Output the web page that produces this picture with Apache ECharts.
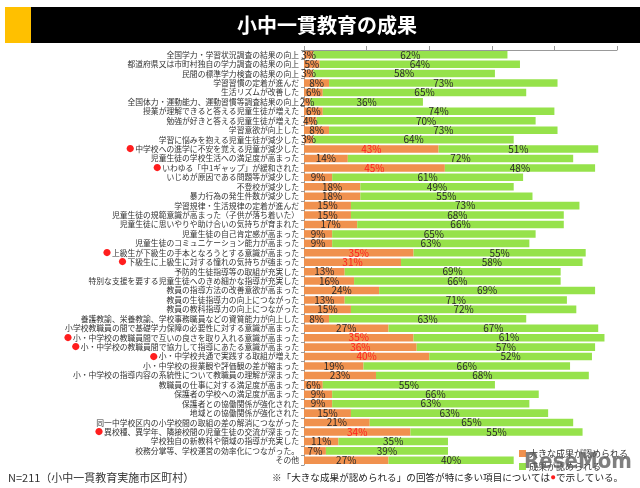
<!DOCTYPE html>
<html>
<head>
<meta charset="utf-8">
<script src="https://cdn.jsdelivr.net/npm/echarts@6/dist/echarts.min.js"></script>
<style>
html,body{margin:0;padding:0;background:#fff;}
#chart{width:640px;height:488px;}
</style>
</head>
<body>
<div id="chart"></div>
<script>
const categories = [
  '全国学力・学習状況調査の結果の向上',
  '都道府県又は市町村独自の学力調査の結果の向上',
  '民間の標準学力検査の結果の向上',
  '学習習慣の定着が進んだ',
  '生活リズムが改善した',
  '全国体力・運動能力、運動習慣等調査結果の向上',
  '授業が理解できると答える児童生徒が増えた',
  '勉強が好きと答える児童生徒が増えた',
  '学習意欲が向上した',
  '学習に悩みを抱える児童生徒が減少した',
  '中学校への進学に不安を覚える児童が減少した',
  '児童生徒の学校生活への満足度が高まった',
  'いわゆる「中1ギャップ」が緩和された',
  'いじめが原因である問題等が減少した',
  '不登校が減少した',
  '暴力行為の発生件数が減少した',
  '学習規律・生活規律の定着が進んだ',
  '児童生徒の規範意識が高まった（子供が落ち着いた）',
  '児童生徒に思いやりや助け合いの気持ちが育まれた',
  '児童生徒の自己肯定感が高まった',
  '児童生徒のコミュニケーション能力が高まった',
  '上級生が下級生の手本となろうとする意識が高まった',
  '下級生に上級生に対する憧れの気持ちが強まった',
  '予防的生徒指導等の取組が充実した',
  '特別な支援を要する児童生徒へのきめ細かな指導が充実した',
  '教員の指導方法の改善意欲が高まった',
  '教員の生徒指導力の向上につながった',
  '教員の教科指導力の向上につながった',
  '養護教諭、栄養教諭、学校事務職員などの資質能力が向上した',
  '小学校教職員の間で基礎学力保障の必要性に対する意識が高まった',
  '小・中学校の教職員間で互いの良さを取り入れる意識が高まった',
  '小・中学校の教職員間で協力して指導にあたる意識が高まった',
  '小・中学校共通で実践する取組が増えた',
  '小・中学校の授業観や評価観の差が縮まった',
  '小・中学校の指導内容の系統性について教職員の理解が深まった',
  '教職員の仕事に対する満足度が高まった',
  '保護者の学校への満足度が高まった',
  '保護者との協働関係が強化された',
  '地域との協働関係が強化された',
  '同一中学校区内の小学校間の取組の差の解消につながった',
  '異校種、異学年、隣接校間の児童生徒の交流が深まった',
  '学校独自の新教科や領域の指導が充実した',
  '校務分掌等、学校運営の効率化につながった。',
  'その他'
];
const largeEffect = [3,5,3,8,6,2,6,4,8,3,43,14,45,9,18,18,15,15,17,9,9,35,31,13,16,24,13,15,8,27,35,36,40,19,23,6,9,9,15,21,34,11,7,27];
const someEffect  = [62,64,58,73,65,36,74,70,73,64,51,72,48,61,49,55,73,68,66,65,63,55,58,69,66,69,71,72,63,67,61,57,52,66,68,55,66,63,63,65,55,35,39,40];
const markedRows = [10,12,21,22,30,31,32,40];
const seriesNames = ['大きな成果が認められる','成果が認められる'];
const xTicks = [0,20,40,60,80,100];

const FONT = '"Noto Sans CJK JP", sans-serif';
const ORANGE = '#F0914E';
const GREEN = '#96E24B';
const RED = '#FF1E1E';

const chart = echarts.init(document.getElementById('chart'), null, {renderer:'canvas'});
chart.setOption({
  animation: false,
  backgroundColor: '#fff',
  textStyle: {fontFamily: FONT},
  grid: {left: 304, right: 23, top: 50, bottom: 23, containLabel: false},
  legend: {
    orient: 'vertical', left: 514, top: 444,
    itemWidth: 7, itemHeight: 7, itemGap: 4,
    icon: 'rect',
    textStyle: {fontSize: 9, color: '#333', fontFamily: FONT, padding:[0,0,0,-2]},
    data: seriesNames
  },
  xAxis: {
    type: 'value', position: 'top', min: xTicks[0], max: xTicks[xTicks.length-1], interval: 20,
    axisLine: {show: true, lineStyle: {color: '#999', width: 1}},
    axisTick: {show: true, length: 4, lineStyle: {color: '#999'}},
    axisLabel: {show: false},
    splitLine: {show: false}
  },
  yAxis: {
    type: 'category', inverse: true, data: categories,
    axisLine: {show: true, lineStyle: {color: '#999'}},
    axisTick: {show: true, length: 3, interval: 0, lineStyle: {color: '#999'}},
    axisLabel: {
      interval: 0,
      fontSize: 7.8, color: '#333', margin: 5, fontFamily: FONT,
      formatter: function (v, i) {
        return markedRows.indexOf(i) >= 0 ? '{d|●}' + v : v;
      },
      rich: {d: {color: RED, fontSize: 8, padding: [0, 1, 0, 0]}}
    }
  },
  series: [
    {
      name: seriesNames[0], type: 'bar', stack: 'all', barCategoryGap: '20%',
      itemStyle: {color: ORANGE},
      data: largeEffect.map((v, i) => ({
        value: v,
        label: {color: markedRows.indexOf(i) >= 0 ? RED : '#2a2a2a'}
      })),
      label: {show: true, position: 'inside', formatter: '{c}%', fontSize: 10, fontFamily: FONT}
    },
    {
      name: seriesNames[1], type: 'bar', stack: 'all',
      itemStyle: {color: GREEN},
      data: someEffect,
      label: {show: true, position: 'inside', formatter: '{c}%', fontSize: 10, color: '#2a2a2a', fontFamily: FONT}
    }
  ],
  graphic: [
    {type: 'rect', shape: {x: 5, y: 7, width: 26, height: 36}, style: {fill: '#FFC000'}},
    {type: 'rect', shape: {x: 31, y: 7, width: 609, height: 36}, style: {fill: '#000'}},
    {type: 'text', x: 327, y: 25, style: {text: '小中一貫教育の成果', fill: '#fff', font: 'bold 20px ' + FONT, textAlign: 'center', textVerticalAlign: 'middle'}},
    {type: 'text', x: 8, y: 478, style: {text: 'N=211（小中一貫教育実施市区町村）', fill: '#333', font: '11px ' + FONT, textVerticalAlign: 'middle'}},
    {type: 'text', x: 272, y: 477, z: 10, style: {
      text: '※「大きな成果が認められる」の回答が特に多い項目については{d|●}で示している。',
      fill: '#222', font: '9.6px ' + FONT, textVerticalAlign: 'middle',
      rich: {d: {fill: RED, fontSize: 9.6}}
    }},
    {type: 'text', x: 578, y: 462, z: 5, style: {text: 'ReseMom', fill: 'rgba(95,95,95,0.8)', font: 'bold 22px "DejaVu Sans Condensed", sans-serif', textAlign: 'center', textVerticalAlign: 'middle'}}
  ]
});
</script>
</body>
</html>
